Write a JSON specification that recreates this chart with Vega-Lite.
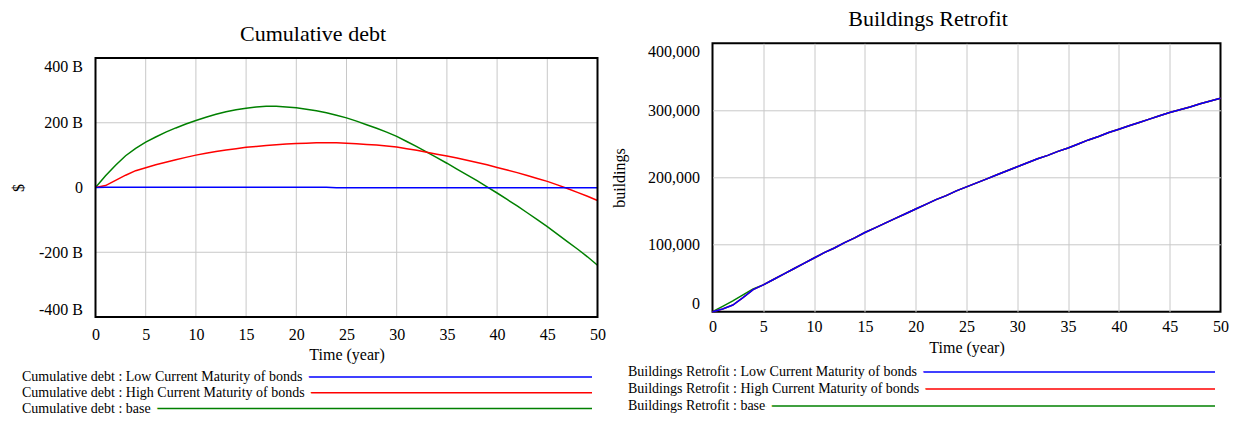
{
  "$schema": "https://vega.github.io/schema/vega-lite/v6.json",
  "autosize": {"type": "none"},
  "padding": {"left": 95.5, "top": 43.3, "right": 1142.5, "bottom": 377.7},
  "bounds": "flush",
  "align": "each",
  "columns": 2,
  "spacing": {"row": 10, "column": 115},
  "datasets": {
    "debt": [
      {"t":0,"low":0,"high":0,"base":0},{"t":1,"low":1,"high":6,"base":36},{"t":2,"low":1,"high":22,"base":69},{"t":3,"low":1,"high":38,"base":98},{"t":4,"low":1,"high":52,"base":121},{"t":5,"low":1,"high":61,"base":140},
      {"t":6,"low":1,"high":70,"base":156},{"t":7,"low":1,"high":78,"base":171},{"t":8,"low":1,"high":86,"base":184},{"t":9,"low":1,"high":93,"base":196},{"t":10,"low":1,"high":100,"base":207},
      {"t":11,"low":1,"high":106,"base":217},{"t":12,"low":1,"high":111,"base":226},{"t":13,"low":1,"high":116,"base":234},{"t":14,"low":1,"high":120,"base":240},{"t":15,"low":1,"high":124,"base":245},
      {"t":16,"low":1,"high":127,"base":249},{"t":17,"low":1,"high":130,"base":251},{"t":18,"low":1,"high":132,"base":251},{"t":19,"low":1,"high":134,"base":249},{"t":20,"low":1,"high":136,"base":246},
      {"t":21,"low":1,"high":137,"base":242},{"t":22,"low":1,"high":138,"base":237},{"t":23,"low":1,"high":138,"base":231},{"t":24,"low":-1,"high":138,"base":223},{"t":25,"low":-1,"high":137,"base":215},
      {"t":26,"low":-1,"high":135,"base":205},{"t":27,"low":-1,"high":133,"base":194},{"t":28,"low":-1,"high":131,"base":183},{"t":29,"low":-1,"high":128,"base":171},{"t":30,"low":-1,"high":125,"base":158},
      {"t":31,"low":-1,"high":120,"base":142},{"t":32,"low":-1,"high":115,"base":126},{"t":33,"low":-1,"high":109,"base":109},{"t":34,"low":-1,"high":103,"base":92},{"t":35,"low":-1,"high":97,"base":75},
      {"t":36,"low":-1,"high":91,"base":57},{"t":37,"low":-1,"high":84,"base":39},{"t":38,"low":-1,"high":77,"base":21},{"t":39,"low":-1,"high":70,"base":2},{"t":40,"low":-1,"high":62,"base":-17},
      {"t":41,"low":-1,"high":54,"base":-37},{"t":42,"low":-1,"high":46,"base":-57},{"t":43,"low":-1,"high":37,"base":-78},{"t":44,"low":-1,"high":28,"base":-99},{"t":45,"low":-1,"high":19,"base":-121},
      {"t":46,"low":-1,"high":8,"base":-144},{"t":47,"low":-1,"high":-3,"base":-167},{"t":48,"low":-1,"high":-15,"base":-190},{"t":49,"low":-1,"high":-27,"base":-214},{"t":50,"low":-1,"high":-40,"base":-240}
    ],
    "retro": [
      {"t":0,"low":0,"high":0,"base":0},{"t":1,"low":4000,"high":4000,"base":8000},{"t":2,"low":10000,"high":10000,"base":16000},{"t":3,"low":21000,"high":21000,"base":25000},{"t":4,"low":33000,"high":33000,"base":34000},{"t":5,"low":40000,"high":40000,"base":40000},
      {"t":6,"low":48000,"high":48000,"base":48000},{"t":7,"low":56000,"high":56000,"base":56000},{"t":8,"low":64000,"high":64000,"base":64000},{"t":9,"low":72000,"high":72000,"base":72000},{"t":10,"low":80000,"high":80000,"base":80000},
      {"t":11,"low":88000,"high":88000,"base":88000},{"t":12,"low":95000,"high":95000,"base":95000},{"t":13,"low":103000,"high":103000,"base":103000},{"t":14,"low":110000,"high":110000,"base":110000},{"t":15,"low":118000,"high":118000,"base":118000},
      {"t":16,"low":125000,"high":125000,"base":125000},{"t":17,"low":132000,"high":132000,"base":132000},{"t":18,"low":139000,"high":139000,"base":139000},{"t":19,"low":146000,"high":146000,"base":146000},{"t":20,"low":153000,"high":153000,"base":153000},
      {"t":21,"low":160000,"high":160000,"base":160000},{"t":22,"low":167000,"high":167000,"base":167000},{"t":23,"low":173000,"high":173000,"base":173000},{"t":24,"low":180000,"high":180000,"base":180000},{"t":25,"low":186000,"high":186000,"base":186000},
      {"t":26,"low":192000,"high":192000,"base":192000},{"t":27,"low":198000,"high":198000,"base":198000},{"t":28,"low":204000,"high":204000,"base":204000},{"t":29,"low":210000,"high":210000,"base":210000},{"t":30,"low":216000,"high":216000,"base":216000},
      {"t":31,"low":222000,"high":222000,"base":222000},{"t":32,"low":228000,"high":228000,"base":228000},{"t":33,"low":233000,"high":233000,"base":233000},{"t":34,"low":239000,"high":239000,"base":239000},{"t":35,"low":244000,"high":244000,"base":244000},
      {"t":36,"low":250000,"high":250000,"base":250000},{"t":37,"low":256000,"high":256000,"base":256000},{"t":38,"low":261000,"high":261000,"base":261000},{"t":39,"low":267000,"high":267000,"base":267000},{"t":40,"low":272000,"high":272000,"base":272000},
      {"t":41,"low":277000,"high":277000,"base":277000},{"t":42,"low":282000,"high":282000,"base":282000},{"t":43,"low":287000,"high":287000,"base":287000},{"t":44,"low":292000,"high":292000,"base":292000},{"t":45,"low":297000,"high":297000,"base":297000},
      {"t":46,"low":301000,"high":301000,"base":301000},{"t":47,"low":305000,"high":305000,"base":305000},{"t":48,"low":310000,"high":310000,"base":310000},{"t":49,"low":314000,"high":314000,"base":314000},{"t":50,"low":318000,"high":318000,"base":318000}
    ],
    "legendL": [
      {"row": 1, "label": "Cumulative debt : Low Current Maturity of bonds", "s": "low"},
      {"row": 2, "label": "Cumulative debt : High Current Maturity of bonds", "s": "high"},
      {"row": 3, "label": "Cumulative debt : base", "s": "base"}
    ],
    "legendR": [
      {"row": 1, "label": "Buildings Retrofit : Low Current Maturity of bonds", "s": "low"},
      {"row": 2, "label": "Buildings Retrofit : High Current Maturity of bonds", "s": "high"},
      {"row": 3, "label": "Buildings Retrofit : base", "s": "base"}
    ]
  },
  "concat": [
    {
      "width": 502, "height": 273.7,
      "title": {"text": "Cumulative debt", "dx": -33.5, "dy": 15},
      "view": {"stroke": null},
      "layer": [
        {
          "data": {"values": [{"t":5},{"t":10},{"t":15},{"t":20},{"t":25},{"t":30},{"t":35},{"t":40},{"t":45}]},
          "mark": {"type": "rule", "color": "#c8c8c8", "strokeWidth": 1},
          "encoding": {
            "x": {"field": "t", "type": "quantitative", "scale": {"domain": [0, 50], "nice": false},
              "axis": {"values": [0,5,10,15,20,25,30,35,40,45,50], "title": "Time (year)", "grid": false, "labelFlush": false, "labelPadding": 9, "titlePadding": 4}},
            "y": {"datum": -400, "type": "quantitative"}, "y2": {"datum": 400}
          }
        },
        {
          "data": {"values": [{"v":-200},{"v":0},{"v":200}]},
          "mark": {"type": "rule", "color": "#c8c8c8", "strokeWidth": 1},
          "encoding": {
            "y": {"field": "v", "type": "quantitative", "scale": {"domain": [-400, 400], "nice": false, "range": [273.7, 14.7]},
              "axis": {"values": [-400,-200,0,200,400], "title": "$", "grid": false, "labelExpr": "datum.value == 0 ? '0' : datum.value + ' B'", "labelFlush": true, "labelPadding": 13, "titlePadding": 12}},
            "x": {"datum": 0, "type": "quantitative"}, "x2": {"datum": 50}
          }
        },
        {
          "data": {"name": "debt"},
          "transform": [{"fold": ["base", "high", "low"], "as": ["s", "v"]}],
          "mark": {"type": "line", "strokeWidth": 1.5},
          "encoding": {
            "x": {"field": "t", "type": "quantitative", "scale": {"domain": [0, 50], "nice": false},
              "axis": {"values": [0,5,10,15,20,25,30,35,40,45,50], "title": "Time (year)", "grid": false, "labelFlush": false, "labelPadding": 9, "titlePadding": 4}},
            "y": {"field": "v", "type": "quantitative", "scale": {"domain": [-400, 400], "nice": false, "range": [273.7, 14.7]},
              "axis": {"values": [-400,-200,0,200,400], "title": "$", "grid": false, "labelExpr": "datum.value == 0 ? '0' : datum.value + ' B'", "labelFlush": true, "labelPadding": 13, "titlePadding": 12}},
            "color": {"field": "s", "type": "nominal", "scale": {"domain": ["low", "high", "base"], "range": ["#0000ff", "#ff0000", "#008000"]}, "legend": null}
          }
        },
        {
          "data": {"values": [{}]},
          "mark": {"type": "rect", "fill": "transparent", "stroke": "black", "strokeWidth": 2},
          "encoding": {
            "x": {"datum": 0, "type": "quantitative"}, "x2": {"datum": 50},
            "y": {"datum": -400, "type": "quantitative"}, "y2": {"datum": 400}
          }
        }
      ]
    },
    {
      "width": 508, "height": 268.4,
      "title": {"text": "Buildings Retrofit", "dx": -38.5},
      "data": {"name": "retro"},
      "transform": [{"fold": ["base", "high", "low"], "as": ["s", "v"]}],
      "mark": {"type": "line", "strokeWidth": 1.5},
      "encoding": {
        "x": {"field": "t", "type": "quantitative", "scale": {"domain": [0, 50], "nice": false},
          "axis": {"values": [0,5,10,15,20,25,30,35,40,45,50], "title": "Time (year)", "labelFlush": false, "labelPadding": 7, "titlePadding": 5,
            "gridOpacity": {"condition": {"test": "datum.value == 0 || datum.value == 50", "value": 0}, "value": 1}}},
        "y": {"field": "v", "type": "quantitative", "scale": {"domain": [0, 400000], "nice": false},
          "axis": {"values": [0,100000,200000,300000,400000], "format": ",d", "title": "buildings", "labelFlush": true, "labelPadding": 13, "titlePadding": 20,
            "gridOpacity": {"condition": {"test": "datum.value == 0 || datum.value == 400000", "value": 0}, "value": 1}}},
        "color": {"field": "s", "type": "nominal", "scale": {"domain": ["low", "high", "base"], "range": ["#0000ff", "#ff0000", "#008000"]}, "legend": null}
      }
    },
    {
      "width": 496.5, "height": 100,
      "view": {"stroke": null},
      "data": {"name": "legendL"},
      "encoding": {
        "y": {"field": "row", "type": "quantitative", "scale": {"domain": [-2.146, 4.183], "reverse": true, "nice": false, "zero": false}, "axis": null}
      },
      "layer": [
        {"mark": {"type": "rule", "strokeWidth": 1.5},
         "encoding": {"x": {"datum": 0, "type": "quantitative", "scale": {"domain": [0, 1], "nice": false}, "axis": null}, "x2": {"datum": 1},
           "color": {"field": "s", "type": "nominal", "scale": {"domain": ["low", "high", "base"], "range": ["#0000ff", "#ff0000", "#008000"]}, "legend": null}}},
        {"mark": {"type": "text", "align": "left", "baseline": "middle", "dx": -73.5, "fontSize": 14, "fill": "white", "stroke": "white", "strokeWidth": 14, "strokeJoin": "round"},
         "encoding": {"x": {"datum": 0, "type": "quantitative"}, "text": {"field": "label"}}},
        {"mark": {"type": "text", "align": "left", "baseline": "middle", "dx": -73.5, "fontSize": 14, "fill": "black"},
         "encoding": {"x": {"datum": 0, "type": "quantitative"}, "text": {"field": "label"}}}
      ]
    },
    {
      "width": 502.5, "height": 100,
      "view": {"stroke": null},
      "data": {"name": "legendR"},
      "encoding": {
        "y": {"field": "row", "type": "quantitative", "scale": {"domain": [-1.629, 4.253], "reverse": true, "nice": false, "zero": false}, "axis": null}
      },
      "layer": [
        {"mark": {"type": "rule", "strokeWidth": 1.5},
         "encoding": {"x": {"datum": 0, "type": "quantitative", "scale": {"domain": [0, 1], "nice": false}, "axis": null}, "x2": {"datum": 1},
           "color": {"field": "s", "type": "nominal", "scale": {"domain": ["low", "high", "base"], "range": ["#0000ff", "#ff0000", "#008000"]}, "legend": null}}},
        {"mark": {"type": "text", "align": "left", "baseline": "middle", "dx": -84.5, "fontSize": 14, "fill": "white", "stroke": "white", "strokeWidth": 14, "strokeJoin": "round"},
         "encoding": {"x": {"datum": 0, "type": "quantitative"}, "text": {"field": "label"}}},
        {"mark": {"type": "text", "align": "left", "baseline": "middle", "dx": -84.5, "fontSize": 14, "fill": "black"},
         "encoding": {"x": {"datum": 0, "type": "quantitative"}, "text": {"field": "label"}}}
      ]
    }
  ],
  "config": {
    "font": "Liberation Serif",
    "view": {"stroke": "black", "strokeWidth": 2},
    "axis": {"grid": true, "gridColor": "#c8c8c8", "gridWidth": 1, "domain": false, "ticks": false,
      "labelFontSize": 16, "titleFontSize": 16, "labelColor": "black", "titleColor": "black", "titleFontWeight": "normal",
      "labelFont": "Liberation Serif", "titleFont": "Liberation Serif"},
    "title": {"font": "Liberation Serif", "fontSize": 22, "fontWeight": "normal", "color": "black", "offset": 12, "anchor": "middle"}
  }
}
